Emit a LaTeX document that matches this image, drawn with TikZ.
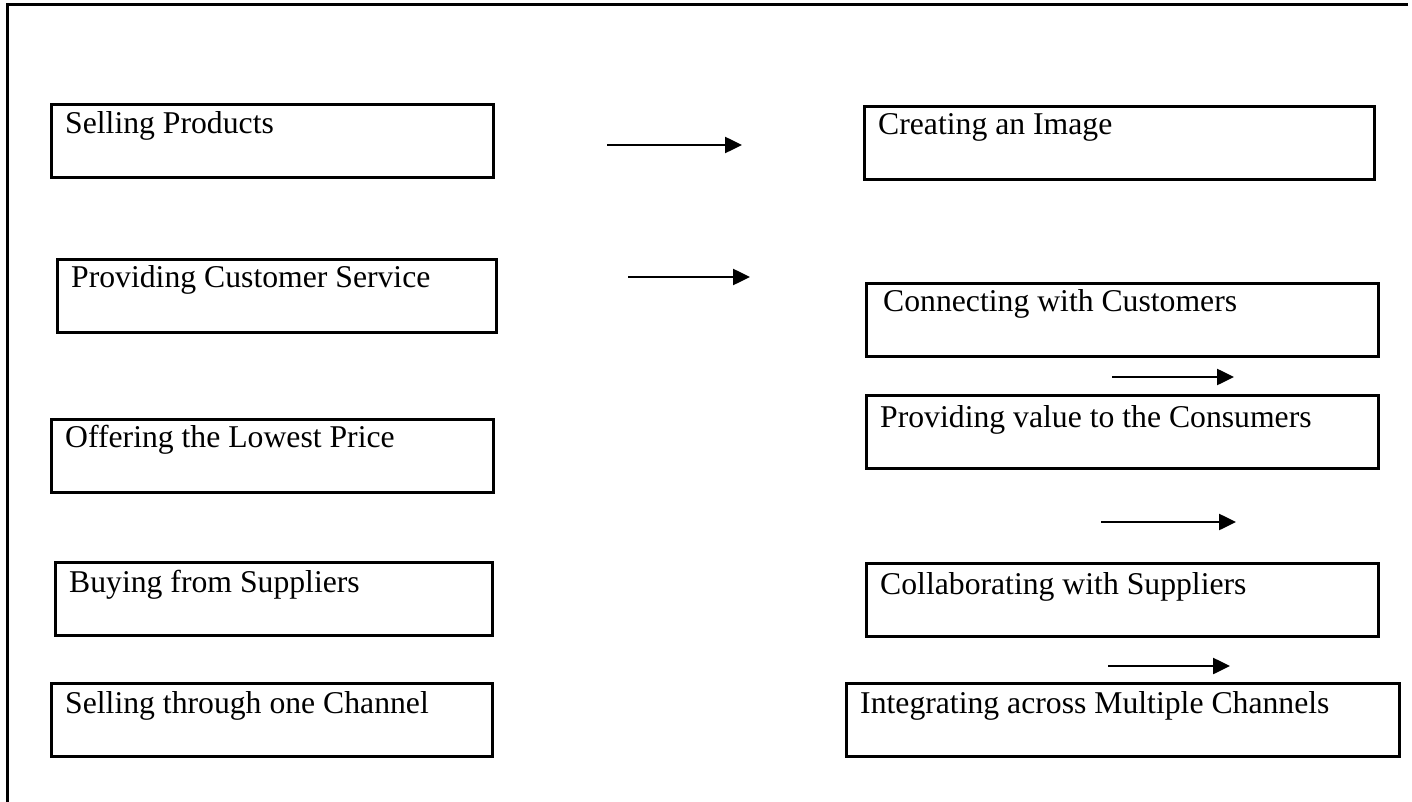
\documentclass[tikz,border=0pt]{standalone}
\usepackage{fontspec}
\setmainfont{Liberation Serif}
\usetikzlibrary{arrows.meta, positioning}
\tikzset{
    frame/.style = {line width=3pt, draw=black},
    stage/.style = {
      draw=black, line width=3pt, anchor=north west, inner sep=0, outer sep=0,
    },
    caption/.style = {
      anchor=base west, inner sep=0, font=\fontsize{31.7}{38}\selectfont,
    },
    shift arrow/.style = {line width=2.5pt, black, arrows={-Triangle[length=17pt, width=16pt]}},
}
\begin{document}
\begin{tikzpicture}[x=1pt, y=-1pt]
    \useasboundingbox (0,0) rectangle (1412,802);

    %% Outer frame (top and left edges only)
    \coordinate (frame_tl) at (7,5);
    \coordinate (frame_tr) at (1408,5);
    \coordinate (frame_bl) at (7,802);
    \draw [frame] (frame_tr) -- (frame_tl) -- (frame_bl);

    %% Left column: the old ways
    \node [stage, minimum width=442pt, minimum height=73pt] (old_1) at (51,105) {};
    \node [caption] (old_1_text) at ([shift={(14,29)}]old_1.north west) {Selling Products};
    \node [stage, minimum width=439pt, minimum height=73pt] (old_2) at (57,259) {};
    \node [caption] (old_2_text) at ([shift={(14,28)}]old_2.north west) {Providing Customer Service};
    \node [stage, minimum width=442pt, minimum height=73pt] (old_3) at (51,419) {};
    \node [caption] (old_3_text) at ([shift={(14,28)}]old_3.north west) {Offering the Lowest Price};
    \node [stage, minimum width=437pt, minimum height=73pt] (old_4) at (55,562) {};
    \node [caption] (old_4_text) at ([shift={(14,30)}]old_4.north west) {Buying from Suppliers};
    \node [stage, minimum width=441pt, minimum height=73pt] (old_5) at (51,683) {};
    \node [caption] (old_5_text) at ([shift={(14,30)}]old_5.north west) {Selling through one Channel};

    %% Right column: the new ways
    \node [stage, minimum width=510pt, minimum height=73pt] (new_1) at (864,107) {};
    \node [caption] (new_1_text) at ([shift={(14,28)}]new_1.north west) {Creating an Image};
    \node [stage, minimum width=512pt, minimum height=73pt] (new_2) at (866,283) {};
    \node [caption] (new_2_text) at ([shift={(17,28)}]new_2.north west) {Connecting with Customers};
    \node [stage, minimum width=512pt, minimum height=73pt] (new_3) at (866,395) {};
    \node [caption] (new_3_text) at ([shift={(14,32)}]new_3.north west) {Providing value to the Consumers};
    \node [stage, minimum width=512pt, minimum height=73pt] (new_4) at (866,563) {};
    \node [caption] (new_4_text) at ([shift={(14,31)}]new_4.north west) {Collaborating with Suppliers};
    \node [stage, minimum width=553pt, minimum height=73pt] (new_5) at (846,683) {};
    \node [caption] (new_5_text) at ([shift={(14,30)}]new_5.north west) {Integrating across Multiple Channels};

    %% Floating arrows
    \coordinate (arrow_1_from) at (607,145);
    \coordinate (arrow_1_to) at (742,145);
    \coordinate (arrow_2_from) at (628,277);
    \coordinate (arrow_2_to) at (750,277);
    \coordinate (arrow_3_from) at (1112,377);
    \coordinate (arrow_3_to) at (1234,377);
    \coordinate (arrow_4_from) at (1101,522);
    \coordinate (arrow_4_to) at (1236,522);
    \coordinate (arrow_5_from) at (1108,666);
    \coordinate (arrow_5_to) at (1230,666);
    \foreach \n in {1,...,5}{%
      \draw [shift arrow] (arrow_\n_from) -- (arrow_\n_to);
    }
\end{tikzpicture}
\end{document}
